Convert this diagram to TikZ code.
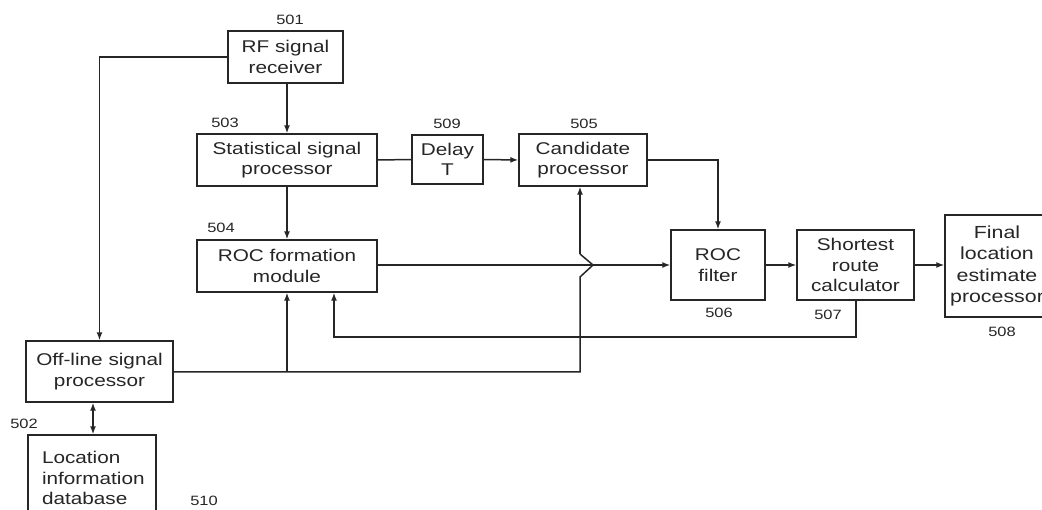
\documentclass[tikz,border=0pt]{standalone}
\usepackage{fontspec}
\newfontfamily\diag{Liberation Sans}[FakeStretch=1.22]
\usetikzlibrary{arrows.meta}
\definecolor{ink}{gray}{0.15}
\tikzset{
  box/.style={draw=ink, line width=1.4pt, align=center, inner sep=0pt, text=ink,
    font=\diag\fontsize{17}{20.5}\selectfont},
  num/.style={text=ink, inner sep=0pt, font=\diag\fontsize{13.5}{14}\selectfont},
  wire/.style={draw=ink, line width=1.5pt},
  arr/.style={wire, -{Latex[length=8pt,width=6pt]}},
  darr/.style={wire, {Latex[length=8pt,width=6pt]}-{Latex[length=8pt,width=6pt]}}
}
\begin{document}
\begin{tikzpicture}[x=1pt,y=-1pt]
\useasboundingbox (0,0) rectangle (1042,510);
\clip (0,0) rectangle (1042,510);
\fill[white] (0,0) rectangle (1042,510);
% boxes
\node[box, minimum width=115pt, minimum height=52pt] (rf) at (285.5,57) {RF signal\\receiver};
\node[box, minimum width=180pt, minimum height=52pt] (stat) at (287,160) {Statistical signal\\processor};
\node[box, minimum width=71pt, minimum height=49pt] (delay) at (447.5,159.5) {Delay\\T};
\node[box, minimum width=128pt, minimum height=52pt] (cand) at (583,160) {Candidate\\processor};
\node[box, minimum width=180pt, minimum height=52pt] (rocf) at (287,266) {ROC formation\\module};
\node[box, minimum width=94pt, minimum height=70pt] (filt) at (718,265) {ROC\\filter};
\node[box, minimum width=117pt, minimum height=70pt] (short) at (855.5,265) {Shortest\\route\\calculator};
\node[box, minimum width=104pt, minimum height=102pt, font=\diag\fontsize{17.5}{21.5}\selectfont] (final) at (997,266) {Final\\location\\estimate\\processor};
\node[box, minimum width=147pt, minimum height=61pt] (off) at (99.5,371.5) {Off-line signal\\processor};
\node[box, minimum width=128pt, minimum height=86pt, align=left, text width=100pt] (db) at (92,478) {Location\\information\\database};
% numbers
\node[num] (n501) at (290,20) {501};
\node[num] (n503) at (225,123) {503};
\node[num] (n509) at (447,124) {509};
\node[num] (n505) at (584,124) {505};
\node[num] (n504) at (221,228) {504};
\node[num] (n506) at (719,313) {506};
\node[num] (n507) at (828,315) {507};
\node[num] (n508) at (1002,332) {508};
\node[num] (n502) at (24,424) {502};
\node[num] (n510) at (204,501) {510};
% coordinates
\coordinate (jx) at (580,372);
\coordinate (br) at (287,372);
\coordinate (fb) at (334,337);
% connectors
\draw[arr] (stat.north |- rf.south) -- (stat.north);
\draw[arr] (rf.west) -| (off.north);
\draw[arr] (stat.south) -- (rocf.north);
\draw[wire] (stat.east) -- (delay.west);
\draw[arr] (delay.east) -- (cand.west);
\draw[arr] (cand.east) -| (filt.north);
\draw[arr] (rocf.east |- filt.west) -- (filt.west);
\draw[arr] (filt.east) -- (short.west);
\draw[arr] (short.east) -- (short.east -| final.west);
\draw[arr] (short.south -| 856,0) |- (fb) -- (fb |- rocf.south);
\draw[wire] (off.east |- jx) -- (jx) -- (580,277) -- (593,265) -- (580,254);
\draw[arr] (580,254) -- (jx |- cand.south);
\draw[arr] (br) -- (br |- rocf.south);
\draw[darr] (off.south -| 93,0) -- (db.north -| 93,0);
\end{tikzpicture}
\end{document}
